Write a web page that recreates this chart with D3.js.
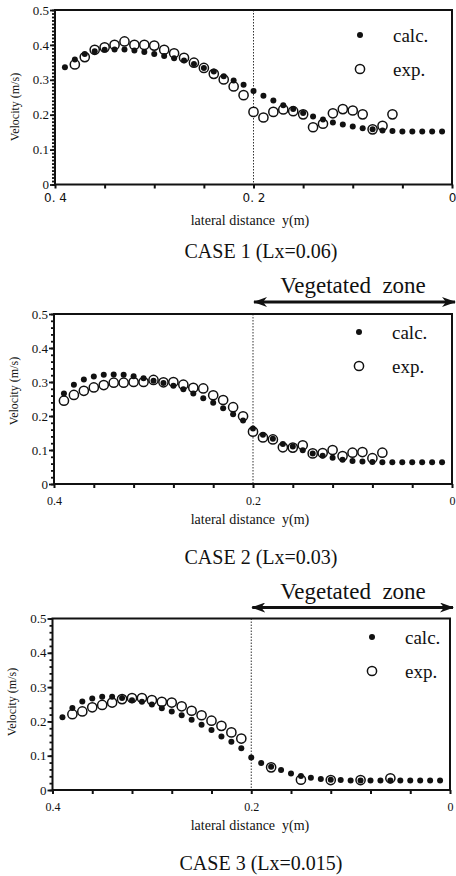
<!DOCTYPE html>
<html>
<head>
<meta charset="utf-8">
<script src="https://cdn.jsdelivr.net/npm/d3@7"></script>
<style>
body { margin: 0; background: #fff; }
svg { display: block; }
text { font-family: "Liberation Serif", "Times New Roman", serif; fill: #111; }
</style>
</head>
<body>
<script>
// ---- data ----
const yCalcX = [0.39, 0.38, 0.37, 0.36, 0.35, 0.34, 0.33, 0.32, 0.31, 0.30, 0.29, 0.28, 0.27, 0.26, 0.25, 0.24, 0.23, 0.22, 0.21, 0.20,
                0.19, 0.18, 0.17, 0.16, 0.15, 0.14, 0.13, 0.12, 0.11, 0.10, 0.09, 0.08, 0.07, 0.06, 0.05, 0.04, 0.03, 0.02, 0.01];

// CASE 1
const calc1 = [0.336, 0.358, 0.374, 0.382, 0.386, 0.387, 0.387, 0.384, 0.380, 0.374, 0.368, 0.362, 0.355, 0.345, 0.334, 0.324, 0.310, 0.298, 0.286, 0.268,
               0.254, 0.241, 0.227, 0.216, 0.205, 0.195, 0.186, 0.178, 0.172, 0.166, 0.161, 0.158, 0.155, 0.153, 0.152, 0.152, 0.152, 0.152, 0.152];
const exp1X = [0.38, 0.37, 0.36, 0.35, 0.34, 0.33, 0.32, 0.31, 0.30, 0.29, 0.28, 0.27, 0.26, 0.25, 0.24, 0.23, 0.22, 0.21, 0.20,
               0.19, 0.18, 0.17, 0.16, 0.15, 0.14, 0.13, 0.12, 0.11, 0.10, 0.09, 0.08, 0.07, 0.06];
const exp1 = [0.344, 0.365, 0.386, 0.393, 0.400, 0.410, 0.400, 0.400, 0.398, 0.386, 0.376, 0.363, 0.349, 0.334, 0.317, 0.301, 0.281, 0.256, 0.208,
              0.192, 0.208, 0.215, 0.210, 0.201, 0.164, 0.174, 0.204, 0.216, 0.212, 0.201, 0.158, 0.168, 0.201];

// CASE 2
const calc2 = [0.266, 0.292, 0.307, 0.316, 0.321, 0.322, 0.321, 0.317, 0.311, 0.304, 0.297, 0.289, 0.279, 0.266, 0.252, 0.239, 0.223, 0.205, 0.187, 0.163,
               0.145, 0.133, 0.118, 0.110, 0.099, 0.090, 0.083, 0.077, 0.071, 0.068, 0.066, 0.065, 0.064, 0.064, 0.064, 0.064, 0.064, 0.064, 0.064];
const exp2X = [0.39, 0.38, 0.37, 0.36, 0.35, 0.34, 0.33, 0.32, 0.31, 0.30, 0.29, 0.28, 0.27, 0.26, 0.25, 0.24, 0.23, 0.22, 0.21, 0.20,
               0.19, 0.18, 0.17, 0.16, 0.15, 0.14, 0.13, 0.12, 0.11, 0.10, 0.09, 0.08, 0.07];
const exp2 = [0.245, 0.262, 0.274, 0.284, 0.291, 0.298, 0.298, 0.300, 0.300, 0.306, 0.299, 0.300, 0.292, 0.283, 0.281, 0.261, 0.247, 0.226, 0.199, 0.154,
              0.137, 0.131, 0.108, 0.107, 0.114, 0.090, 0.091, 0.100, 0.082, 0.092, 0.094, 0.076, 0.092];

// CASE 3
const calc3 = [0.212, 0.239, 0.258, 0.267, 0.272, 0.272, 0.268, 0.262, 0.257, 0.249, 0.238, 0.229, 0.218, 0.205, 0.190, 0.175, 0.156, 0.141, 0.122, 0.095,
               0.079, 0.068, 0.058, 0.048, 0.041, 0.036, 0.032, 0.030, 0.029, 0.028, 0.028, 0.028, 0.028, 0.028, 0.028, 0.028, 0.028, 0.028, 0.028];
const exp3X = [0.38, 0.37, 0.36, 0.35, 0.34, 0.33, 0.32, 0.31, 0.30, 0.29, 0.28, 0.27, 0.26, 0.25, 0.24, 0.23, 0.22, 0.21,
               0.18, 0.15, 0.12, 0.09, 0.06];
const exp3 = [0.221, 0.229, 0.241, 0.248, 0.255, 0.265, 0.268, 0.268, 0.262, 0.257, 0.255, 0.244, 0.231, 0.218, 0.202, 0.187, 0.168, 0.150,
              0.066, 0.030, 0.029, 0.029, 0.034];

const yTicks = [0, 0.1, 0.2, 0.3, 0.4, 0.5];
const yTickLabels = ["0", "0.1", "0.2", "0.3", "0.4", "0.5"];
const xLabelTicks = [0.4, 0.2, 0];
const xTickLabels1 = ["0. 4", "0. 2", "0"];
const xTickLabels = ["0.4", "0.2", "0"];
const xMinor1 = [0.4, 0.35, 0.3, 0.25, 0.2, 0.15, 0.1, 0.05, 0];
const xMinor = [0.4, 0.36, 0.32, 0.28, 0.24, 0.2, 0.16, 0.12, 0.08, 0.04, 0];
const caseTitles = ["CASE 1 (Lx=0.06)", "CASE 2 (Lx=0.03)", "CASE 3 (Lx=0.015)"];

const svg = d3.select("body").append("svg")
    .attr("width", 456)
    .attr("height", 876);

// arrowhead for "Vegetated zone"
const defs = svg.append("defs");
defs.append("marker")
    .attr("id", "head")
    .attr("viewBox", "0 0 14 10")
    .attr("refX", 13).attr("refY", 5)
    .attr("markerUnits", "userSpaceOnUse")
    .attr("markerWidth", 14).attr("markerHeight", 10)
    .attr("orient", "auto-start-reverse")
    .append("path")
    .attr("d", "M0,0 L14,5 L0,10 L4,5 Z")
    .attr("fill", "#111");

function drawPanel(p) {
    const x = d3.scaleLinear().domain([0.4, 0]).range([p.left, p.right]);
    const y = d3.scaleLinear().domain([0, 0.5]).range([p.bottom, p.top]);
    const g = svg.append("g");

    // boundary of vegetated zone
    g.append("line")
        .attr("x1", x(0.2)).attr("x2", x(0.2))
        .attr("y1", y(0.5)).attr("y2", y(0))
        .attr("stroke", "#333").attr("stroke-width", 1)
        .attr("stroke-dasharray", "1.5,1.5");

    // y minor + major ticks
    g.append("g").attr("transform", `translate(${p.left},0)`)
        .call(d3.axisLeft(y).tickValues(d3.range(0, 0.5001, p.yStep)).tickSize(3).tickSizeOuter(0).tickFormat(""))
        .call(a => a.select(".domain").remove());
    const ya = g.append("g").attr("transform", `translate(${p.left},0)`)
        .call(d3.axisLeft(y).tickValues(yTicks).tickSize(5).tickSizeOuter(0).tickPadding(1)
            .tickFormat((d, i) => yTickLabels[i]));
    ya.select(".domain").remove();
    ya.selectAll("text").style("font-family", "Liberation Serif, serif").style("font-size", "13px").attr("fill", "#333");
    g.selectAll(".tick line").attr("stroke", "#111").attr("stroke-width", 1.8);

    // x ticks
    g.append("g").attr("transform", `translate(0,${p.bottom})`)
        .call(d3.axisBottom(x).tickValues(p.xMinor).tickSize(4).tickSizeOuter(0).tickFormat(""))
        .call(a => a.select(".domain").remove())
        .selectAll("line").attr("stroke", "#111").attr("stroke-width", 2);
    const xa = g.append("g").attr("transform", `translate(0,${p.bottom})`)
        .call(d3.axisBottom(x).tickValues(xLabelTicks).tickSize(0).tickPadding(p.xPad)
            .tickFormat((d, i) => p.xLabels[i]));
    xa.select(".domain").remove();
    xa.selectAll("text").style("font-family", p.xFont).style("font-size", "12px").attr("fill", "#222");

    // frame
    g.append("rect")
        .attr("x", p.left).attr("y", p.top)
        .attr("width", p.right - p.left).attr("height", p.bottom - p.top)
        .attr("fill", "none").attr("stroke", "#111").attr("stroke-width", 2);

    // experiment (open circles) then calculation (dots)
    g.selectAll(".exp").data(p.expX).enter().append("circle")
        .attr("class", "exp")
        .attr("cx", d => x(d))
        .attr("cy", (d, i) => y(p.exp[i]))
        .attr("r", 4.6)
        .attr("fill", "#fff").attr("stroke", "#111").attr("stroke-width", 1.5);
    g.selectAll(".calc").data(yCalcX).enter().append("circle")
        .attr("class", "calc")
        .attr("cx", d => x(d))
        .attr("cy", (d, i) => y(p.calc[i]))
        .attr("r", 3)
        .attr("fill", "#111");

    // legend
    g.append("circle").attr("cx", p.legX).attr("cy", p.legY).attr("r", 3).attr("fill", "#111");
    g.append("circle").attr("cx", p.legX).attr("cy", p.legY + 34).attr("r", 4.6)
        .attr("fill", "#fff").attr("stroke", "#111").attr("stroke-width", 1.5);
    g.append("text").attr("x", p.legX + 33).attr("y", p.legY + 7).style("font-size", "19px").text("calc.");
    g.append("text").attr("x", p.legX + 33).attr("y", p.legY + 41).style("font-size", "19px").text("exp.");

    // axis titles
    g.append("text")
        .attr("transform", `translate(${p.yTitleX},${p.yTitleY}) rotate(-90)`)
        .attr("text-anchor", "middle")
        .style("font-size", "12px").attr("fill", "#444")
        .text("Velocity (m/s)");
    g.append("text")
        .attr("x", 250).attr("y", p.bottom + 40)
        .attr("text-anchor", "middle")
        .attr("xml:space", "preserve")
        .style("font-size", "14px")
        .text("lateral distance  y(m)");
    g.append("text")
        .attr("x", 261).attr("y", p.bottom + p.caseDy)
        .attr("text-anchor", "middle")
        .style("font-size", "20px")
        .text(p.title);

    if (p.zone) {
        const ay = p.top - p.zoneDy;
        g.append("line")
            .attr("x1", x(0.2) + 1).attr("x2", p.right + 3)
            .attr("y1", ay).attr("y2", ay)
            .attr("stroke", "#111").attr("stroke-width", 3)
            .attr("marker-start", "url(#head)").attr("marker-end", "url(#head)");
        g.append("text")
            .attr("x", 353).attr("y", ay - 9)
            .attr("text-anchor", "middle")
            .attr("xml:space", "preserve")
            .style("font-size", "23px")
            .text("Vegetated  zone");
    }
}

drawPanel({ left: 55, right: 452, top: 10, bottom: 184.5, yStep: 0.01, xMinor: xMinor1,
    xLabels: xTickLabels1, xFont: "DejaVu Sans, sans-serif", xPad: 9,
    calc: calc1, expX: exp1X, exp: exp1, legX: 360, legY: 35,
    yTitleX: 19, yTitleY: 107, caseDy: 73, title: caseTitles[0], zone: false });

drawPanel({ left: 54, right: 452, top: 314, bottom: 484, yStep: 0.02, xMinor: xMinor,
    xLabels: xTickLabels, xFont: "Liberation Serif, serif", xPad: 12,
    calc: calc2, expX: exp2X, exp: exp2, legX: 359, legY: 332,
    yTitleX: 18, yTitleY: 391, caseDy: 80, title: caseTitles[1], zone: true, zoneDy: 12 });

drawPanel({ left: 52.5, right: 450, top: 618.5, bottom: 790, yStep: 0.02, xMinor: xMinor,
    xLabels: xTickLabels, xFont: "Liberation Serif, serif", xPad: 12,
    calc: calc3, expX: exp3X, exp: exp3, legX: 372, legY: 637,
    yTitleX: 16, yTitleY: 702, caseDy: 80, title: caseTitles[2], zone: true, zoneDy: 11 });
</script>
</body>
</html>
